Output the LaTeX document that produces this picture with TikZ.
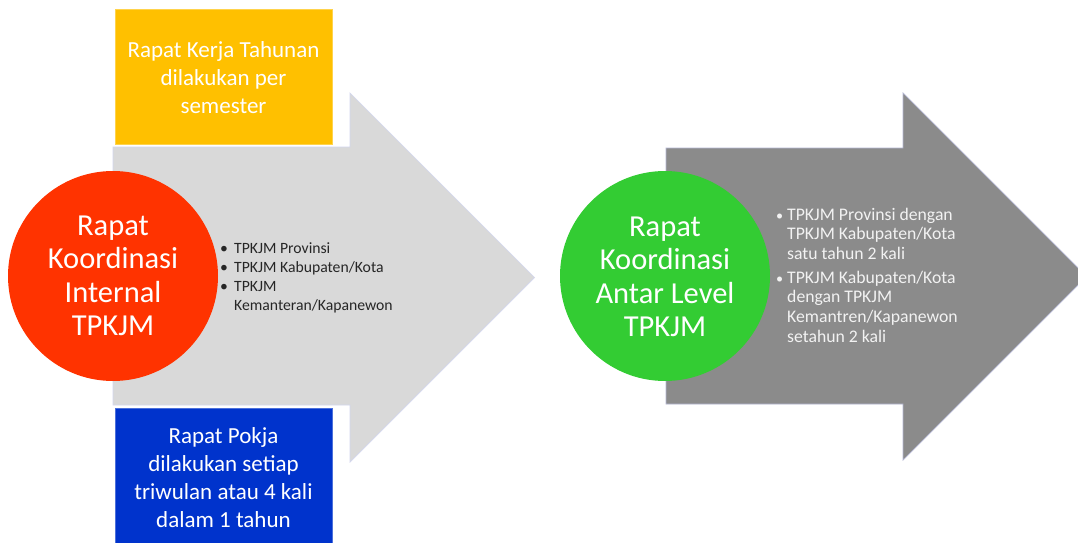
\documentclass[tikz,border=0pt]{standalone}
\usepackage{fontspec}
\setmainfont{Carlito}
\definecolor{redc}{HTML}{FF3300}
\definecolor{greenc}{HTML}{33CC33}
\definecolor{yellowc}{HTML}{FFC000}
\definecolor{bluec}{HTML}{0033CC}
\definecolor{lightgreyc}{HTML}{D9D9D9}
\definecolor{darkgreyc}{HTML}{8B8B8B}
\definecolor{edgec}{HTML}{D3D7EE}
\definecolor{darkedgec}{HTML}{B4B7D2}
\definecolor{darktextc}{HTML}{262626}
\definecolor{lighttextc}{HTML}{F2F2F2}
\begin{document}
\begin{tikzpicture}[x=1pt,y=-1pt,
  titletext/.style={text=white,align=center,inner sep=0pt,anchor=north,
    font=\fontsize{30.5}{33.5}\selectfont},
  boxtext/.style={text=white,align=center,inner sep=0pt,anchor=north,
    font=\fontsize{23}{28}\selectfont},
  colorbox/.style={rectangle,inner sep=0pt,minimum width=217pt},
  disc/.style={circle,inner sep=0pt,minimum size=210pt},
  listtext/.style={anchor=north west,inner sep=0pt,align=left}]
\useasboundingbox (0,0) rectangle (1078,543);
\clip (0,0) rectangle (1078,543);
\fill[white] (0,0) rectangle (1078,543);

% left arrow
\draw[fill=lightgreyc,draw=edgec,line width=0.7pt,line join=miter]
  (113,147) -- (350,147) -- (350,93) -- (534.5,277.5) -- (350,462)
  -- (350,405) -- (113,405) -- cycle;
% right arrow
\draw[fill=darkgreyc,draw=darkedgec,line width=0.7pt,line join=miter]
  (666,148) -- (903,148) -- (903,93) -- (1086.5,276.5) -- (903,460)
  -- (903,404) -- (666,404) -- cycle;

% boxes
\node[colorbox,fill=yellowc,draw=yellowc!70!white,line width=0.6pt,minimum height=135pt] (yellowbox) at (223.5,76.5) {};
\node[boxtext] (yellowtext) at (223.5,37.4)
  {\strut Rapat Kerja Tahunan\\dilakukan per\\semester\strut};

\node[colorbox,fill=bluec,draw=bluec!70!white,line width=0.6pt,minimum height=142pt] (bluebox) at (223.5,479) {};
\node[boxtext] (bluetext) at (223.5,423.4)
  {\strut Rapat Pokja\\dilakukan setiap\\triwulan atau 4 kali\\dalam 1 tahun\strut};

% circles
\node[disc,fill=redc] (redcircle) at (113,276) {};
\node[titletext] (redtitle) at (113,211.5)
  {\strut Rapat\\Koordinasi\\Internal\\TPKJM\strut};

\node[disc,fill=greenc] (greencircle) at (665,276) {};
\node[titletext] (greentitle) at (665,212.5)
  {\strut Rapat\\Koordinasi\\Antar Level\\TPKJM\strut};

% bullet lists
\node[listtext,text=darktextc,font=\fontsize{15.7}{19}\selectfont] (leftlist) at (220,240)
  {\begin{tabular}{@{}l@{}l@{}}
   \makebox[14pt][l]{•} & TPKJM Provinsi\\
   \makebox[14pt][l]{•} & TPKJM Kabupaten/Kota\\
   \makebox[14pt][l]{•} & TPKJM\\
    & Kemanteran/Kapanewon
   \end{tabular}};

\node[listtext,text=lighttextc,font=\fontsize{17.7}{19.6}\selectfont] (rightlist) at (776,206.3)
  {\begin{tabular}{@{}l@{}l@{}}
   \makebox[11pt][l]{\scalebox{0.8}{•}} & TPKJM Provinsi dengan\\
    & TPKJM Kabupaten/Kota\\
    & satu tahun 2 kali\\[4.3pt]
   \makebox[11pt][l]{\scalebox{0.8}{•}} & TPKJM Kabupaten/Kota\\
    & dengan TPKJM\\
    & Kemantren/Kapanewon\\
    & setahun 2 kali
   \end{tabular}};
\end{tikzpicture}
\end{document}
